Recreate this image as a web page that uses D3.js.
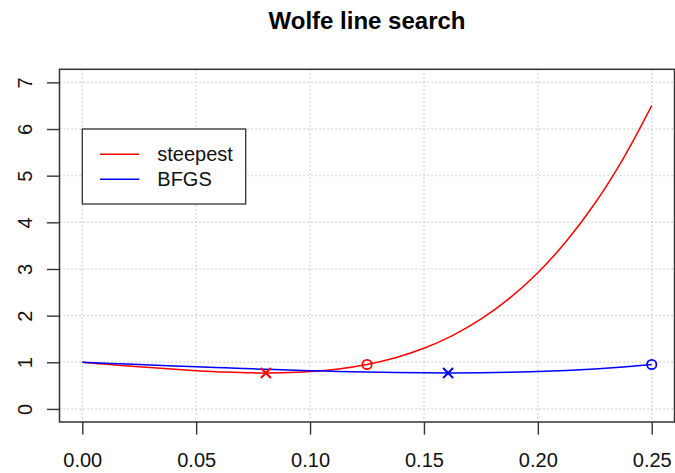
<!DOCTYPE html>
<html>
<head>
<meta charset="utf-8">
<script src="https://cdn.jsdelivr.net/npm/d3@7"></script>
<style>
  html, body { margin: 0; padding: 0; background: #fff; }
  svg { display: block; font-family: "Liberation Sans", Arial, Helvetica, sans-serif; }
</style>
</head>
<body>
<div id="chart"></div>
<script>
// step length along the search direction
const steps = [0, 0.0125, 0.025, 0.0375, 0.05, 0.0625, 0.075, 0.0875, 0.1, 0.1125, 0.125,
  0.1375, 0.15, 0.1625, 0.175, 0.1875, 0.2, 0.2125, 0.225, 0.2375, 0.25];

// objective value along each direction
const steepestValues = [1, 0.9507, 0.9031, 0.8588, 0.82, 0.79, 0.7731, 0.7744, 0.8, 0.8569, 0.9531,
  1.0975, 1.3, 1.5713, 1.9231, 2.3682, 2.92, 3.5932, 4.4031, 5.3663, 6.5];
const bfgsValues = [1, 0.9752, 0.9507, 0.9266, 0.9031, 0.8804, 0.8588, 0.8385, 0.82, 0.8037, 0.79,
  0.7797, 0.7731, 0.7711, 0.7744, 0.7838, 0.8, 0.8241, 0.8569, 0.8996, 0.9531];

// exact minimiser (x) and accepted Wolfe step (o)
const steepestMin = [0.0806, 0.771];
const steepestStep = [0.125, 0.953];
const bfgsMin = [0.1606, 0.771];
const bfgsStep = [0.25, 0.953];

const xTicks = [0, 0.05, 0.1, 0.15, 0.2, 0.25];
const yTicks = [0, 1, 2, 3, 4, 5, 6, 7];
const legendLabels = ['steepest', 'BFGS'];
const legendColors = ['#ff0000', '#0000ff'];

(function() {
  'use strict';

  const W = 675, H = 473;
  const box = { left: 59.5, right: 674.5, top: 69.3, bottom: 422 };
  const fontSize = 20;

  const svg = d3.select('#chart')
    .append('svg')
    .attr('width', W)
    .attr('height', H);

  // scales with R's 4% padding
  const x = d3.scaleLinear().domain([-0.01, 0.26]).range([box.left, box.right]);
  const y = d3.scaleLinear().domain([-0.28, 7.28]).range([box.bottom, box.top]);

  // dotted grid
  const grid = svg.append('g')
    .attr('stroke', '#cfcfcf')
    .attr('stroke-width', 1.4)
    .attr('stroke-dasharray', '1.4,2.6');

  grid.selectAll('.vgrid')
    .data(xTicks)
    .enter()
    .append('line')
    .attr('x1', d => x(d)).attr('x2', d => x(d))
    .attr('y1', box.top).attr('y2', box.bottom);

  grid.selectAll('.hgrid')
    .data(yTicks)
    .enter()
    .append('line')
    .attr('x1', box.left).attr('x2', box.right)
    .attr('y1', d => y(d)).attr('y2', d => y(d));

  // curves
  const line = d3.line()
    .x(d => x(d[0]))
    .y(d => y(d[1]))
    .curve(d3.curveCatmullRom);

  const series = [
    { values: steepestValues, color: legendColors[0], min: steepestMin, step: steepestStep },
    { values: bfgsValues, color: legendColors[1], min: bfgsMin, step: bfgsStep }
  ];

  series.forEach(s => {
    svg.append('path')
      .datum(steps.map((t, i) => [t, s.values[i]]))
      .attr('fill', 'none')
      .attr('stroke', s.color)
      .attr('stroke-width', 1.5)
      .attr('d', line);
  });

  // markers
  series.forEach(s => {
    const cx = x(s.min[0]), cy = y(s.min[1]), r = 5;
    svg.append('path')
      .attr('d', `M${cx - r},${cy - r}L${cx + r},${cy + r}M${cx - r},${cy + r}L${cx + r},${cy - r}`)
      .attr('stroke', s.color)
      .attr('stroke-width', 2)
      .attr('fill', 'none');

    svg.append('circle')
      .attr('cx', x(s.step[0]))
      .attr('cy', y(s.step[1]))
      .attr('r', 4.7)
      .attr('fill', 'none')
      .attr('stroke', s.color)
      .attr('stroke-width', 1.7);
  });

  // axes
  const xAxis = svg.append('g')
    .attr('transform', `translate(0,${box.bottom})`)
    .call(d3.axisBottom(x).tickValues(xTicks).tickFormat(d3.format('.2f'))
      .tickSizeInner(12.6).tickSizeOuter(0).tickPadding(18));

  const yAxis = svg.append('g')
    .attr('transform', `translate(${box.left},0)`)
    .call(d3.axisLeft(y).tickValues(yTicks).tickFormat(d3.format('d'))
      .tickSizeInner(12.6).tickSizeOuter(0));

  [xAxis, yAxis].forEach(g => {
    g.select('.domain').remove();
    g.selectAll('.tick line').attr('stroke', '#333').attr('stroke-width', 1.4);
    g.selectAll('text')
      .attr('font-size', fontSize)
      .attr('font-family', '"Liberation Sans", Arial, sans-serif')
      .attr('fill', '#111');
  });

  // y labels parallel to the axis
  yAxis.selectAll('text')
    .attr('x', null)
    .attr('dy', null)
    .attr('text-anchor', 'middle')
    .attr('transform', `translate(${32 - box.left},0) rotate(-90)`);

  // plot box
  svg.append('rect')
    .attr('x', box.left)
    .attr('y', box.top)
    .attr('width', box.right - box.left)
    .attr('height', box.bottom - box.top)
    .attr('fill', 'none')
    .attr('stroke', '#333')
    .attr('stroke-width', 1.5);

  // title
  svg.append('text')
    .attr('x', (box.left + box.right) / 2)
    .attr('y', 29)
    .attr('text-anchor', 'middle')
    .attr('font-size', 24)
    .attr('font-weight', 'bold')
    .attr('fill', '#000')
    .text('Wolfe line search');

  // legend
  const legend = svg.append('g');
  legend.append('rect')
    .attr('x', 82.3)
    .attr('y', 129)
    .attr('width', 163.4)
    .attr('height', 75)
    .attr('fill', '#fff')
    .attr('stroke', '#333')
    .attr('stroke-width', 1.3);

  legendLabels.forEach((label, i) => {
    const ly = 154.3 + i * 25;
    legend.append('line')
      .attr('x1', 100).attr('x2', 139.3)
      .attr('y1', ly).attr('y2', ly)
      .attr('stroke', legendColors[i])
      .attr('stroke-width', 1.5);
    legend.append('text')
      .attr('x', 157.3)
      .attr('y', ly)
      .attr('dy', '0.35em')
      .attr('font-size', fontSize)
      .attr('fill', '#111')
      .text(label);
  });
})();
</script>
</body>
</html>
